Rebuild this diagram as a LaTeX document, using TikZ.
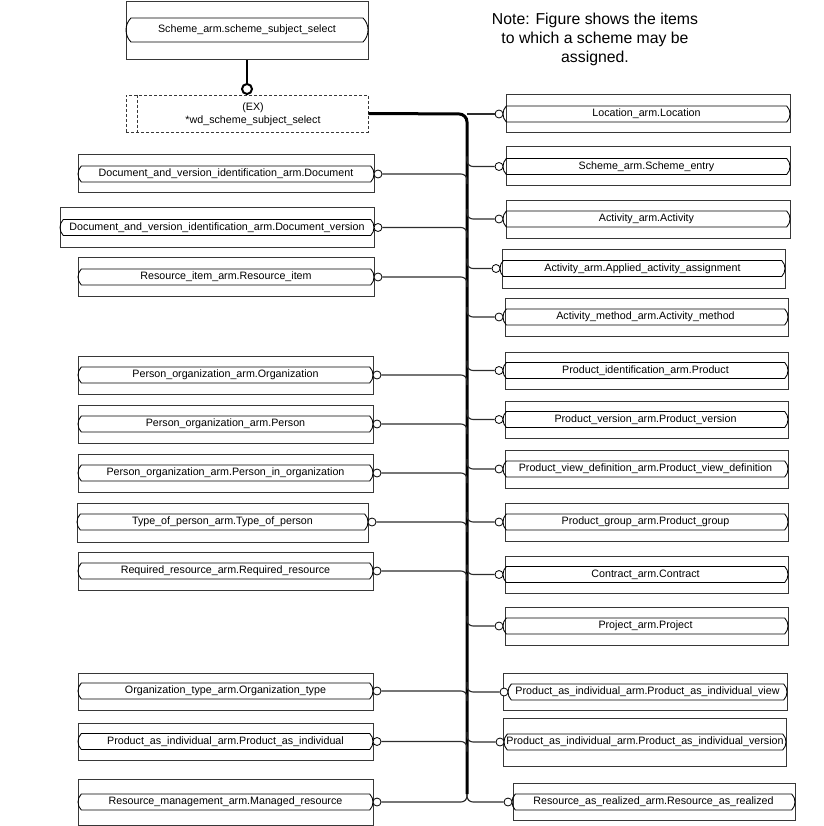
\documentclass[tikz,border=0pt]{standalone}
\usepackage{fontspec}
\setmainfont{Liberation Sans}
\usetikzlibrary{shapes.misc,calc}
\definecolor{boxgray}{RGB}{55,55,55}
\definecolor{linegray}{RGB}{45,45,45}
\tikzset{
  box/.style={draw=boxgray, line width=1pt, rectangle, inner sep=0pt},
  capsule/.style={draw=black, line width=0.85pt, rounded rectangle, rounded rectangle arc length=90, inner sep=0pt, minimum height=16pt, font=\fontsize{10.7}{12}\selectfont},
  circ/.style={draw=black, circle, fill=white, minimum size=8pt, inner sep=0pt, line width=0.8pt},
  conn/.style={draw=linegray, line width=1.15pt, rounded corners=6pt},
  bus/.style={draw=black, line width=3pt, rounded corners=8pt},
  dashbox/.style={draw=boxgray, line width=0.9pt, dash pattern=on 3pt off 2pt},
}
\newcommand{\lbox}[7]{%
  \node[box, minimum width={(#4-#2)*1pt}, minimum height={(#5-#3)*1pt}] (#1) at ({(#2+#4)/2},{(#3+#5)/2}) {};
  \node[capsule, minimum width={(#4-#2)*1pt}] (#1t) at ({(#2+#4)/2},#6) {#7};
  \node[circ] (#1c) at ({#4+4},#6) {};
}
\newcommand{\rbox}[8]{%
  \node[box, minimum width={(#4-#2)*1pt}, minimum height={(#5-#3)*1pt}] (#1) at ({(#2+#4)/2},{(#3+#5)/2}) {};
  \node[capsule, minimum width={(#4-#6)*1pt}] (#1t) at ({(#6+#4)/2},#7) {#8};
  \node[circ] (#1c) at ({#6-4},#7) {};
}
\begin{document}
\begin{tikzpicture}[x=1pt,y=-1pt]
\useasboundingbox (0,0) rectangle (823,826);

% note
\node[align=center, font=\fontsize{15.8}{19}\selectfont, inner sep=0pt] (note) at (595,39) {Note: Figure shows the items\\to which a scheme may be\\assigned.};

% top select box
\node[box, minimum width=242pt, minimum height=58pt] (top) at (247,31) {};
\node[capsule, minimum width=242pt, minimum height=24pt] (topt) at (247,30) {Scheme\_arm.scheme\_subject\_select};

% dashed extension box
\node[rectangle, dashbox, minimum width=242pt, minimum height=37pt, inner sep=0pt] (ex) at (247,113.5) {};
\draw[dashbox] ($(ex.north west)+(12,0)$) -- ($(ex.south west)+(12,0)$);
\node[align=center, font=\fontsize{10.7}{13}\selectfont, inner sep=0pt] (ext) at (253,114) {(EX)\\*wd\_scheme\_subject\_select};

\node[circ, minimum size=10pt, line width=2pt] (topc) at (247,89) {};
\draw[line width=2.5pt] (top.south) -- (topc.north);

% left boxes
\lbox{L1}{78}{155}{374}{193}{174}{Document\_and\_version\_identification\_arm.Document}
\lbox{L2}{60}{208}{374}{247}{227.5}{Document\_and\_version\_identification\_arm.Document\_version}
\lbox{L3}{78}{257}{374}{296}{277}{Resource\_item\_arm.Resource\_item}
\lbox{L4}{78}{356}{373}{394}{375}{Person\_organization\_arm.Organization}
\lbox{L5}{78}{405}{373}{443}{424}{Person\_organization\_arm.Person}
\lbox{L6}{78}{454}{373}{492}{473}{Person\_organization\_arm.Person\_in\_organization}
\lbox{L7}{77}{503}{368}{542}{522}{Type\_of\_person\_arm.Type\_of\_person}
\lbox{L8}{78}{552}{373}{590}{571}{Required\_resource\_arm.Required\_resource}
\lbox{L9}{78}{673}{373}{710}{691}{Organization\_type\_arm.Organization\_type}
\lbox{L10}{78}{723}{373}{760}{741.5}{Product\_as\_individual\_arm.Product\_as\_individual}
\lbox{L11}{78}{779}{373}{825}{802}{Resource\_management\_arm.Managed\_resource}

% right boxes
\rbox{R1}{506}{95}{790}{133}{503}{114}{Location\_arm.Location}
\rbox{R2}{506}{147}{790}{186}{503}{166.5}{Scheme\_arm.Scheme\_entry}
\rbox{R3}{506}{201}{790}{238}{503}{219}{Activity\_arm.Activity}
\rbox{R4}{502}{249}{785}{288}{500}{268.5}{Activity\_arm.Applied\_activity\_assignment}
\rbox{R5}{505}{298}{788}{336}{503}{317}{Activity\_method\_arm.Activity\_method}
\rbox{R6}{505}{352}{788}{389}{503}{370.5}{Product\_identification\_arm.Product}
\rbox{R7}{505}{401}{788}{438}{503}{419.5}{Product\_version\_arm.Product\_version}
\rbox{R8}{505}{450}{788}{488}{503}{469}{Product\_view\_definition\_arm.Product\_view\_definition}
\rbox{R9}{505}{503}{788}{541}{503}{522}{Product\_group\_arm.Product\_group}
\rbox{R10}{505}{556}{788}{593}{503}{574.5}{Contract\_arm.Contract}
\rbox{R11}{505}{607}{788}{645}{503}{626}{Project\_arm.Project}
\rbox{R12}{503}{673}{787}{710}{508}{692}{Product\_as\_individual\_arm.Product\_as\_individual\_view}
\rbox{R13}{503}{718}{786}{766}{504}{742}{Product\_as\_individual\_arm.Product\_as\_individual\_version}
\rbox{R14}{513}{783}{795}{820}{512}{802}{Resource\_as\_realized\_arm.Resource\_as\_realized}

% bus
\coordinate (busT) at (467,114);
\coordinate (busB) at (467,794);
\draw[bus] (ex.east) -- (busT) -- (busB);

% left connectors
\foreach \n in {L1,L2,L3,L4,L5,L6,L7,L8,L9,L10}{
  \draw[conn] (\n c.east) -- (\n c.east -| busT) -- ++(0,10);
}
\draw[conn] (L11c.east) -- (L11c.east -| busB) -- (busB);

% right connectors
\draw[conn] (busT) -- (R1c.west);
\foreach \n in {R2,R3,R4,R5,R6,R7,R8,R9,R10,R11,R12,R13}{
  \draw[conn] (\n c.west -| busT) ++(0,-10) -- ++(0,10) -- (\n c.west);
}
\draw[conn] (busB) -- (R14c.west -| busB) -- (R14c.west);
\end{tikzpicture}
\end{document}
